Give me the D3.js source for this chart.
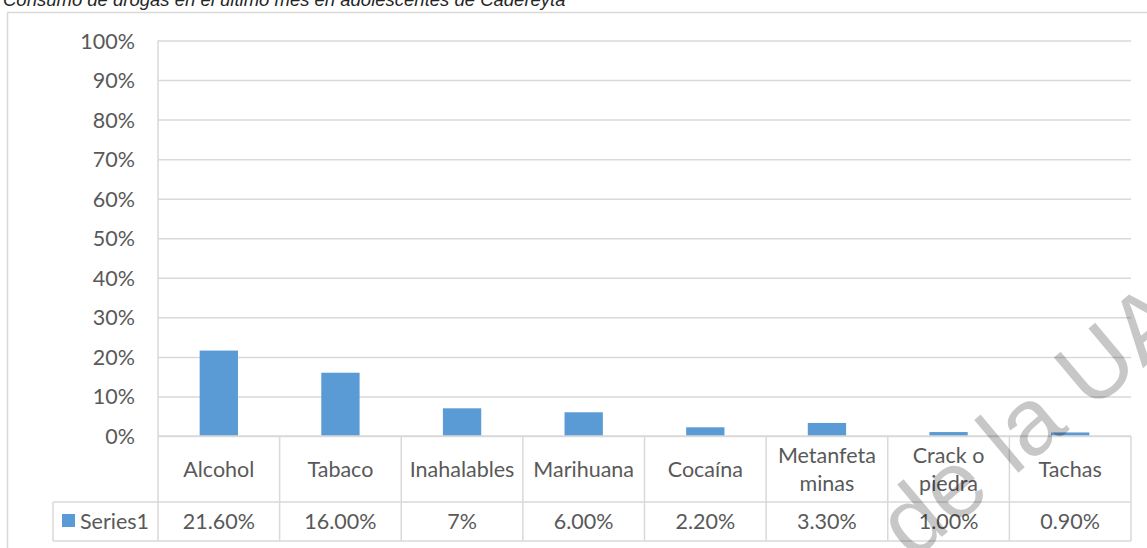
<!DOCTYPE html>
<html>
<head>
<meta charset="utf-8">
<script src="https://cdn.jsdelivr.net/npm/d3@7"></script>
<style>
  html, body { margin: 0; padding: 0; background: #fff; }
  svg { display: block; }
</style>
</head>
<body>
<svg id="chart" width="1147" height="548"></svg>
<script>
// ---- data ----
const titleText = "Consumo de drogas en el último mes en adolescentes de Cadereyta";
const categories = ["Alcohol", "Tabaco", "Inahalables", "Marihuana", "Cocaína", "Metanfetaminas", "Crack o piedra", "Tachas"];
const categoryLines = [["Alcohol"], ["Tabaco"], ["Inahalables"], ["Marihuana"], ["Cocaína"], ["Metanfeta", "minas"], ["Crack o", "piedra"], ["Tachas"]];
const seriesName = "Series1";
const values = [0.216, 0.16, 0.07, 0.06, 0.022, 0.033, 0.01, 0.009];
const valueLabels = ["21.60%", "16.00%", "7%", "6.00%", "2.20%", "3.30%", "1.00%", "0.90%"];
const yTicks = [0, 0.1, 0.2, 0.3, 0.4, 0.5, 0.6, 0.7, 0.8, 0.9, 1.0];
const watermarkText = "Dirección General de Bibliotecas de la UAQ";

// ---- layout ----
const svg = d3.select("#chart");
const plotLeft = 158, plotRight = 1131, plotTop = 40.5, plotBottom = 436;
const rowCatBottom = 502, rowValBottom = 541, legendLeft = 53;
const gridColor = "#d9d9d9", textColor = "#595959", barColor = "#5b9bd5";
const font = "Lato, 'Open Sans', sans-serif";

const x = d3.scaleBand().domain(categories).range([plotLeft, plotRight]).paddingInner(0).paddingOuter(0);
const y = d3.scaleLinear().domain([0, 1]).range([plotBottom, plotTop]);

// outer chart border
svg.append("path")
  .attr("d", `M7.5,${548 + 5} V12.5 H${1147 + 5}`)
  .attr("fill", "none").attr("stroke", gridColor).attr("stroke-width", 1.5);

// title (clipped at top)
svg.append("text")
  .attr("x", 3).attr("y", 5.5)
  .attr("font-family", "'Liberation Sans', Arial, sans-serif")
  .attr("font-style", "italic")
  .attr("font-size", 18.5)
  .attr("fill", "#262626")
  .text(titleText);

// gridlines via axis
const yAxis = d3.axisLeft(y).tickValues(yTicks).tickFormat(d3.format(".0%")).tickSize(-(plotRight - plotLeft)).tickPadding(23);
const gy = svg.append("g").attr("transform", `translate(${plotLeft},0)`).call(yAxis);
gy.select(".domain").remove();
gy.selectAll(".tick line").attr("stroke", gridColor).attr("stroke-width", 1.5);
gy.selectAll(".tick text")
  .attr("fill", textColor).attr("font-family", font).attr("font-size", 21.5)
  .attr("dy", "0.35em");

// vertical axis line
svg.append("line")
  .attr("x1", plotLeft).attr("x2", plotLeft)
  .attr("y1", plotTop).attr("y2", rowValBottom)
  .attr("stroke", gridColor).attr("stroke-width", 1.5);

// bars
const barW = x.bandwidth() * 0.315;
svg.append("g").selectAll("rect")
  .data(values)
  .join("rect")
  .attr("x", (d, i) => x(categories[i]) + x.bandwidth() / 2 - barW / 2)
  .attr("width", barW)
  .attr("y", d => y(d))
  .attr("height", d => y(0) - y(d))
  .attr("fill", barColor);

// data table lines
const tbl = svg.append("g").attr("stroke", gridColor).attr("stroke-width", 1.5);
tbl.append("line").attr("x1", plotLeft).attr("x2", plotRight).attr("y1", plotBottom).attr("y2", plotBottom);
tbl.append("line").attr("x1", legendLeft).attr("x2", plotRight).attr("y1", rowCatBottom).attr("y2", rowCatBottom);
tbl.append("line").attr("x1", legendLeft).attr("x2", plotRight).attr("y1", rowValBottom).attr("y2", rowValBottom);
tbl.append("line").attr("x1", legendLeft).attr("x2", legendLeft).attr("y1", rowCatBottom).attr("y2", rowValBottom);
tbl.selectAll(".sep")
  .data(categories)
  .join("line")
  .attr("class", "sep")
  .attr("x1", d => x(d) + x.bandwidth()).attr("x2", d => x(d) + x.bandwidth())
  .attr("y1", plotBottom).attr("y2", rowValBottom);

// category labels
const catG = svg.append("g").attr("font-family", font).attr("font-size", 21.5).attr("fill", textColor).attr("text-anchor", "middle");
categoryLines.forEach((lines, i) => {
  const cx = x(categories[i]) + x.bandwidth() / 2;
  const mid = (plotBottom + rowCatBottom) / 2;
  const lh = 28;
  lines.forEach((ln, j) => {
    catG.append("text")
      .attr("x", cx)
      .attr("y", mid + (j - (lines.length - 1) / 2) * lh)
      .attr("dy", "0.35em")
      .text(ln);
  });
});

// value row
const valG = svg.append("g").attr("font-family", font).attr("font-size", 21.5).attr("fill", textColor).attr("text-anchor", "middle");
valueLabels.forEach((v, i) => {
  valG.append("text")
    .attr("x", x(categories[i]) + x.bandwidth() / 2)
    .attr("y", (rowCatBottom + rowValBottom) / 2)
    .attr("dy", "0.35em")
    .text(v);
});

// legend key
svg.append("rect").attr("x", 62).attr("y", 514).attr("width", 13).attr("height", 13).attr("fill", barColor);
svg.append("text")
  .attr("x", 80).attr("y", (rowCatBottom + rowValBottom) / 2).attr("dy", "0.35em")
  .attr("font-family", font).attr("font-size", 21.5).attr("fill", textColor)
  .text(seriesName);

// watermark
svg.append("text")
  .attr("transform", "translate(1248,280) rotate(-40)")
  .attr("text-anchor", "end")
  .attr("font-family", "'Liberation Sans', Arial, sans-serif")
  .attr("font-size", 95)
  .attr("fill", "#000")
  .attr("fill-opacity", 0.22)
  .text(watermarkText);
</script>
</body>
</html>
